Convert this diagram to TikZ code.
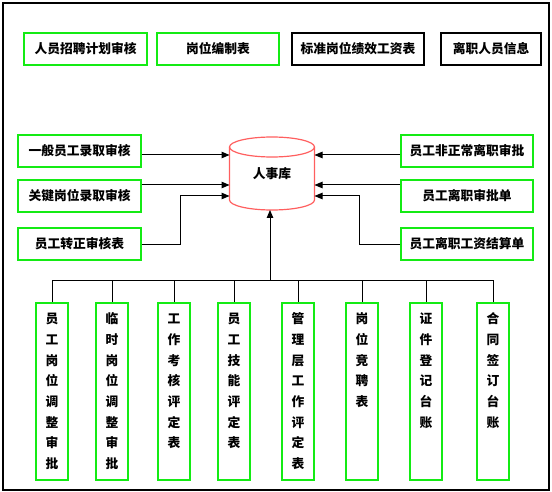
\documentclass[tikz,border=0pt]{standalone}
\usepackage{fontspec}
\newfontfamily\cjk{Noto Sans CJK SC}
\usetikzlibrary{arrows.meta}

\definecolor{boxgreen}{RGB}{20,235,20}
\definecolor{dbred}{RGB}{255,95,95}

\begin{document}
\begin{tikzpicture}[x=1pt, y=-1pt]

\tikzstyle hbox=[draw=boxgreen, line width=2pt, minimum height=32pt, inner sep=0pt, font=\cjk\bfseries\fontsize{12.75pt}{15pt}\selectfont]
\tikzstyle kbox=[hbox, draw=black, line width=1.5pt]
\tikzstyle vbox=[draw=boxgreen, line width=2pt, anchor=north, text width=32pt, align=center, inner sep=0pt, text height=20.75pt, text depth=156.25pt, font=\cjk\bfseries\fontsize{12.75pt}{20.7pt}\selectfont]
\tikzstyle arr=[line width=1pt, -{Triangle[length=8pt,width=6.5pt]}]
\tikzstyle link=[line width=1pt]

\useasboundingbox (0,0) rectangle (552,492);
\draw [line width=1.2pt] (3,3) rectangle (549,490);

\node (t1) [hbox, minimum width=123pt] at (85.5,49) {人员招聘计划审核};
\node (t2) [hbox, minimum width=122pt] at (218,49)  {岗位编制表};
\node (t3) [kbox, minimum width=132pt] at (358,49)  {标准岗位绩效工资表};
\node (t4) [kbox, minimum width=100pt] at (491,49)  {离职人员信息};

\node (l1) [hbox, minimum width=123pt] at (79.5,151) {一般员工录取审核};
\node (l2) [hbox, minimum width=123pt] at (79.5,196) {关键岗位录取审核};
\node (l3) [hbox, minimum width=123pt] at (79.5,244) {员工转正审核表};

\node (r1) [hbox, minimum width=132pt] at (467,151) {员工非正常离职审批};
\node (r2) [hbox, minimum width=132pt] at (467,196) {员工离职审批单};
\node (r3) [hbox, minimum width=132pt] at (467,244) {员工离职工资结算单};

\node (db) [minimum width=85pt, minimum height=73pt, inner sep=0pt, outer sep=0pt, font=\cjk\bfseries\fontsize{12.75pt}{15pt}\selectfont] at (272,173.5) {人事库};
\draw [dbred, line width=1.2pt] (272,147) ellipse [x radius=42.5, y radius=10];
\draw [dbred, line width=1.2pt] (229.5,147) -- (229.5,200) arc [start angle=180, end angle=0, x radius=42.5, y radius=10] -- (314.5,147);

\node (b1) [vbox] at (52,302)  {员\\工\\岗\\位\\调\\整\\审\\批};
\node (b2) [vbox] at (112,302) {临\\时\\岗\\位\\调\\整\\审\\批};
\node (b3) [vbox] at (174,302) {工\\作\\考\\核\\评\\定\\表};
\node (b4) [vbox] at (234,302) {员\\工\\技\\能\\评\\定\\表};
\node (b5) [vbox] at (298,302) {管\\理\\层\\工\\作\\评\\定\\表};
\node (b6) [vbox] at (362,302) {岗\\位\\竞\\聘\\表};
\node (b7) [vbox] at (426,302) {证\\件\\登\\记\\台\\账};
\node (b8) [vbox] at (493,302) {合\\同\\签\\订\\台\\账};

\draw [arr] (l1.east |- 0,155) -- (db.west |- 0,155);
\draw [arr] (l2.east |- 0,185) -- (db.west |- 0,185);
\draw [arr] (l3.east) -| (180,196) -- (db.west |- 0,196);
\draw [arr] (r1.west |- 0,155) -- (db.east |- 0,155);
\draw [arr] (r2.west |- 0,185) -- (db.east |- 0,185);
\draw [arr] (r3.west) -| (359,196) -- (db.east |- 0,196);

\coordinate (bus) at (270,280);
\draw [link] (b1.north |- bus) -- (b8.north |- bus);
\foreach \i in {1,...,8}
{
\draw [link] (b\i.north |- bus) -- (b\i.north);
}
\draw [arr] (bus) -- (bus |- db.south);

\end{tikzpicture}
\end{document}
